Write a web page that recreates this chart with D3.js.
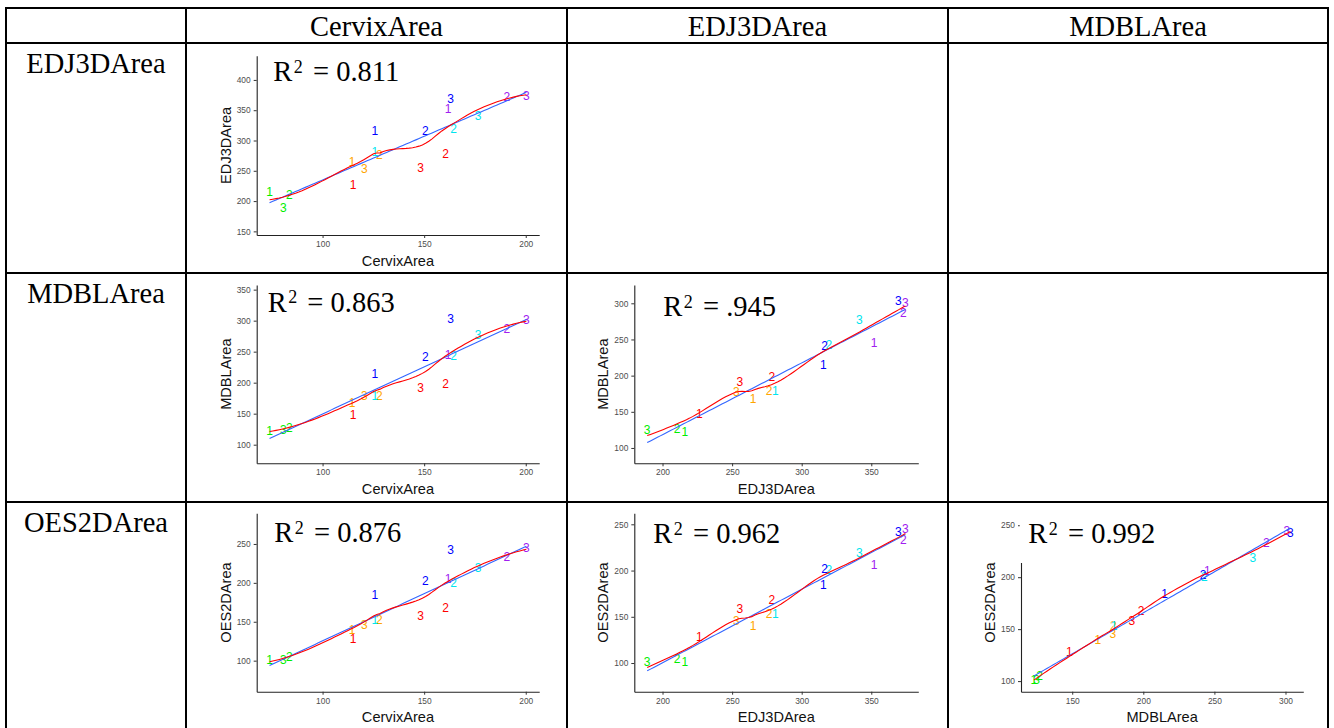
<!DOCTYPE html>
<html><head><meta charset="utf-8">
<script src="https://cdn.jsdelivr.net/npm/d3@7"></script>
<style>body{margin:0;background:#fff}</style>
</head><body><svg id="c" width="1334" height="728"></svg>
<script>
// ---------------- data ----------------
const variables = ["CervixArea", "EDJ3DArea", "MDBLArea", "OES2DArea"];
const subjects = ["A","A","A","B","B","B","C","C","C","D","D","D","E","E","E","F","F","F"];
const visits   = [1,2,3, 1,2,3, 1,2,3, 1,2,3, 1,2,3, 1,2,3];
const cervixArea = [73.9, 83.7, 80.7, 114.5, 128.0, 120.5, 115.0, 160.5, 148.2, 125.7, 164.5, 176.5, 125.7, 150.6, 163.0, 161.8, 190.7, 200.3];
const edj3dArea  = [216, 210.5, 189, 265, 276.5, 253, 226.5, 278.5, 255.5, 281, 319.5, 341.5, 315.5, 316.5, 369.5, 352, 373, 374.5];
const mdblArea   = [123, 127, 125, 168, 179, 178.5, 148, 198.5, 192, 179.5, 243, 277, 215, 242, 303.5, 245, 286.5, 301];
const oes2dArea  = [101, 105, 101, 140, 153, 146, 128, 168, 158.4, 153, 200.5, 219, 184.6, 202.3, 242.5, 206, 233.3, 245];
const r2Labels = ["0.811", "0.863", ".945", "0.876", "0.962", "0.992"];
const xTickValues = [[100,150,200],[100,150,200],[200,250,300,350],[100,150,200],[200,250,300,350],[150,200,250,300]];
const yTickValues = [[150,200,250,300,350,400],[100,150,200,250,300,350],[100,150,200,250,300],[100,150,200,250],[100,150,200,250],[100,150,200,250]];
const yLimits = [[144,440],[70,357.5],[78.8,325.3],[60.1,289.4],[69,261.9],[89.8,261.5]];

const varData = {CervixArea: cervixArea, EDJ3DArea: edj3dArea, MDBLArea: mdblArea, OES2DArea: oes2dArea};
// panels: [xVar, yVar, row, col]
const panels = [
  ["CervixArea","EDJ3DArea",0,0],
  ["CervixArea","MDBLArea",1,0],
  ["EDJ3DArea","MDBLArea",1,1],
  ["CervixArea","OES2DArea",2,0],
  ["EDJ3DArea","OES2DArea",2,1],
  ["MDBLArea","OES2DArea",2,2]
];

// ---------------- style / layout ----------------
const subjectColors = d3.scaleOrdinal()
  .domain(["A","B","C","D","E","F"])
  .range(["#00EE00","#FFA500","#FF0000","#00E5EE","#0000FF","#A020F0"]);
const colX = [6, 186, 567, 948, 1328];
const rowY = [8, 43, 273, 502, 740];
const plotLeftOff = [70.7, 67.3, 73];
const plotWidth = [282.5, 284, 282.3];
const plotTopOff = [12.7, 12, 11.3];
const plotHeight = [179.3, 178.3, 178.4];
const r2Pos = [[16.6,25.3],[11,26.7],[29,31],[17.6,28.7],[19,30],[7.3,29.7]];

const svg = d3.select("#c");
const serif = "'Liberation Serif','Times New Roman',serif";
const sans = "'Liberation Sans',Arial,Helvetica,sans-serif";

// ---------- fitting helpers ----------
function linfit(xs, ys){
  const n = xs.length, mx = d3.mean(xs), my = d3.mean(ys);
  let sxy=0, sxx=0;
  for(let i=0;i<n;i++){ sxy += (xs[i]-mx)*(ys[i]-my); sxx += (xs[i]-mx)**2; }
  const b = sxy/sxx, a = my - b*mx;
  return x => a + b*x;
}
// local quadratic fit at x0 -> [value, slope]
function localFit(xs, ys, q, x0){
  const n = xs.length;
  const d = xs.map(x => Math.abs(x-x0));
  const h = [...d].sort((a,b)=>a-b)[q-1];
  let S=[0,0,0,0,0], T=[0,0,0];
  for(let i=0;i<n;i++){
    const r = d[i]/h; if(r>=1) continue;
    const w = Math.pow(1-r*r*r,3), u = xs[i]-x0;
    let p=1; for(let k=0;k<5;k++){ S[k]+=w*p; if(k<3) T[k]+=w*p*ys[i]; p*=u; }
  }
  const M=[[S[0],S[1],S[2],T[0]],[S[1],S[2],S[3],T[1]],[S[2],S[3],S[4],T[2]]];
  for(let c=0;c<3;c++){
    let piv=c; for(let r=c+1;r<3;r++) if(Math.abs(M[r][c])>Math.abs(M[piv][c])) piv=r;
    [M[c],M[piv]]=[M[piv],M[c]];
    for(let r=0;r<3;r++){ if(r===c) continue; const f=M[r][c]/M[c][c]; for(let k=c;k<4;k++) M[r][k]-=f*M[c][k]; }
  }
  return [M[0][3]/M[0][0], M[1][3]/M[1][1]];
}
// loess with kd-tree vertices + cubic Hermite interpolation (as in R's default surface)
function loess(xs, ys, span){
  const n = xs.length, q = Math.floor(n*span), fc = Math.floor(n*span*0.2);
  const sorted = [...xs].sort((a,b)=>a-b);
  let lo = sorted[0], hi = sorted[n-1];
  const mu = 0.005*Math.max(hi-lo, 1e-10);
  lo -= mu; hi += mu;
  const verts = [lo, hi];
  function split(pts, vlo, vhi){
    if(pts.length <= fc) return;
    const l = 1, u = pts.length; let m = Math.floor((l+u)/2), offset = 0;
    while(!((m+offset) >= u || (m+offset) < l)){
      if(pts[m+offset-1] === pts[m+offset]){ offset = -offset; if(offset >= 0) offset += 1; }
      else { m = m + offset; break; }
    }
    const v = pts[m-1];
    if(v === vlo || v === vhi) return;
    verts.push(v);
    split(pts.slice(0,m), vlo, v);
    split(pts.slice(m), v, vhi);
  }
  split(sorted, lo, hi);
  verts.sort((a,b)=>a-b);
  const vf = verts.map(v => localFit(xs, ys, q, v));
  return function(x){
    let k = 0; while(k < verts.length-2 && x > verts[k+1]) k++;
    const v0 = verts[k], v1 = verts[k+1], hh = v1 - v0, t = (x - v0)/hh;
    const phi0 = (1-t)*(1-t)*(1+2*t), phi1 = t*t*(3-2*t);
    const psi0 = t*(1-t)*(1-t), psi1 = -t*t*(1-t);
    return phi0*vf[k][0] + phi1*vf[k+1][0] + (psi0*vf[k][1] + psi1*vf[k+1][1])*hh;
  };
}

// ---------- panels ----------
panels.forEach((p, i) => {
  const [xv, yv, row, col] = p;
  const xs = varData[xv], ys = varData[yv];
  const left = colX[col+1] + plotLeftOff[col];
  const top = rowY[row+1] + plotTopOff[row];
  const w = plotWidth[col], h = plotHeight[row];
  const ext = d3.extent(xs), pad = (ext[1]-ext[0])*0.05;
  const x = d3.scaleLinear().domain([ext[0]-pad, ext[1]+pad]).range([left, left+w]);
  const y = d3.scaleLinear().domain(yLimits[i]).range([top+h, top]);
  const g = svg.append("g");

  // axes
  const ax = g.append("g").attr("transform",`translate(0,${top+h})`)
    .call(d3.axisBottom(x).tickValues(xTickValues[i]).tickSize(3).tickSizeOuter(0).tickPadding(3));
  const ay = g.append("g").attr("transform",`translate(${left},0)`)
    .call(d3.axisLeft(y).tickValues(yTickValues[i]).tickSize(3).tickSizeOuter(0).tickPadding(3));
  [ax, ay].forEach(a => {
    a.select(".domain").attr("stroke","#222").attr("stroke-width",1.1);
    a.selectAll(".tick line").attr("stroke","#333");
    a.selectAll(".tick text").attr("fill","#4d4d4d").style("font-family",sans).style("font-size","8.4px");
  });
  g.append("text").attr("x", left + w/2).attr("y", top + h + 30.5)
    .attr("text-anchor","middle").style("font-family",sans).style("font-size","14.6px").attr("fill","#111").text(xv);
  g.append("text").attr("transform",`translate(${left-26},${top+h/2}) rotate(-90)`)
    .attr("text-anchor","middle").style("font-family",sans).style("font-size","14.6px").attr("fill","#111").text(yv);

  // labels
  g.selectAll("text.pt").data(d3.range(xs.length)).join("text")
    .attr("class","pt")
    .attr("x", j => x(xs[j])).attr("y", j => y(ys[j]))
    .attr("dy","0.36em").attr("text-anchor","middle")
    .style("font-family",sans).style("font-size","12px")
    .attr("fill", j => subjectColors(subjects[j]))
    .text(j => visits[j]);

  // lines
  const grid = d3.range(80).map(k => ext[0] + (ext[1]-ext[0])*k/79);
  const lf = linfit(xs, ys), lo = loess(xs, ys, 0.75);
  const line = d3.line().x(d => x(d[0])).y(d => y(d[1]));
  g.append("path").attr("d", line(grid.map(v => [v, lf(v)]))).attr("fill","none").attr("stroke","#3366FF").attr("stroke-width",1.1);
  g.append("path").attr("d", line(grid.map(v => [v, lo(v)]))).attr("fill","none").attr("stroke","#FF0000").attr("stroke-width",1.1);

  // R^2 label with white box
  const tx = left + r2Pos[i][0], ty = top + r2Pos[i][1];
  const box = g.append("rect").attr("fill","#fff");
  const t = g.append("text").attr("x", tx).attr("y", ty)
    .style("font-family",serif).style("font-size","28.5px").attr("fill","#000");
  t.append("tspan").text("R");
  t.append("tspan").attr("dx","1.5").attr("dy","-8.5").style("font-size","18px").text("2");
  t.append("tspan").attr("dx","3").attr("dy","8.5").text(" = ");
  t.append("tspan").text(r2Labels[i]);
  const bb = t.node().getBBox();
  box.attr("x", tx - 8.5).attr("y", ty - 36).attr("width", bb.width + 18).attr("height", 56);
});

// ---------- table ----------
const tbl = svg.append("g");
colX.forEach(cx => tbl.append("line").attr("x1",cx).attr("x2",cx).attr("y1",rowY[0]).attr("y2",740).attr("stroke","#000").attr("stroke-width",2));
rowY.slice(0,4).forEach(ry => tbl.append("line").attr("x1",colX[0]-1).attr("x2",colX[4]+1).attr("y1",ry).attr("y2",ry).attr("stroke","#000").attr("stroke-width",2));
variables.slice(0,3).forEach((v,k) => {
  tbl.append("text").attr("x",(colX[k+1]+colX[k+2])/2).attr("y",36)
    .attr("text-anchor","middle").style("font-family",serif).style("font-size","28.5px").text(v);
});
variables.slice(1).forEach((v,k) => {
  tbl.append("text").attr("x",(colX[0]+colX[1])/2).attr("y",rowY[k+1]+30)
    .attr("text-anchor","middle").style("font-family",serif).style("font-size","28.5px").text(v);
});
</script></body></html>
